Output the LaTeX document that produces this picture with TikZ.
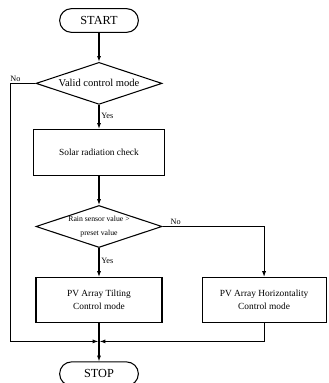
\documentclass[tikz,border=0pt]{standalone}
\usepackage{fontspec}
\setmainfont{Liberation Serif}
\usetikzlibrary{positioning, shapes.geometric, arrows.meta}

\begin{document}
\begin{tikzpicture}[node distance=0.87cm, line width=0.9pt, >={Latex[length=5pt,width=3.5pt]},
    term/.style={draw, rounded corners=0.35cm, minimum width=2.36cm, minimum height=0.71cm, font=\fontsize{10.5}{12}\selectfont},
    decide/.style={draw, diamond, aspect=3, inner sep=0pt, minimum width=3.78cm, minimum height=1.26cm, align=center},
    block/.style={draw, rectangle, align=center, minimum height=1.36cm, font=\fontsize{8}{11}\selectfont},
    lbl/.style={font=\fontsize{7}{8}\selectfont, inner sep=1.5pt}]
    \useasboundingbox (0,0) rectangle (9.84,-11.49);
    % Boxes
    \node[term] (start) at (2.97,-0.615) {START};
    \node[decide, below=of start, font=\fontsize{9}{10}\selectfont] (valid) {Valid control mode};
    \node[block, minimum width=3.93cm, minimum height=1.38cm, below=0.72cm of valid] (solar) {Solar radiation check};
    \node[decide, below=of solar, inner xsep=-2pt, font=\fontsize{6.6}{11.5}\selectfont] (rain) {Rain sensor value >\\preset value};
    \node[block, minimum width=3.78cm, below=of rain] (tilt) {PV Array Tilting\\Control mode};
    \node[block, minimum width=3.72cm, right=1.17cm of tilt] (horiz) {PV Array Horizontality\\Control mode};
    \node[term, below=1.14cm of tilt] (stop) {STOP};
    \coordinate (join) at ([yshift=-0.54cm]tilt.south);
    \coordinate (rail) at ([xshift=-0.75cm]valid.west);

    % Arrows
    \draw[->] (start) -- (valid);
    \draw[->] (valid) -- node[right, lbl, pos=0.45] {Yes} (solar);
    \draw[->] (solar) -- (rain);
    \draw[->] (rain) -- node[right, lbl, pos=0.45] {Yes} (tilt);
    \draw[->] (rain.east) -- node[above, lbl, pos=0.13] {No} (rain.east -| horiz) -- (horiz);
    \draw[->, shorten >=0.5pt] (valid.west) -- node[above, lbl, pos=0.8] {No} (rail) |- (join);
    \draw[->, shorten >=0.5pt] (horiz.south) |- (join);
    \draw (tilt) -- (join);
    \draw[->] (join) -- (stop);
\end{tikzpicture}
\end{document}
